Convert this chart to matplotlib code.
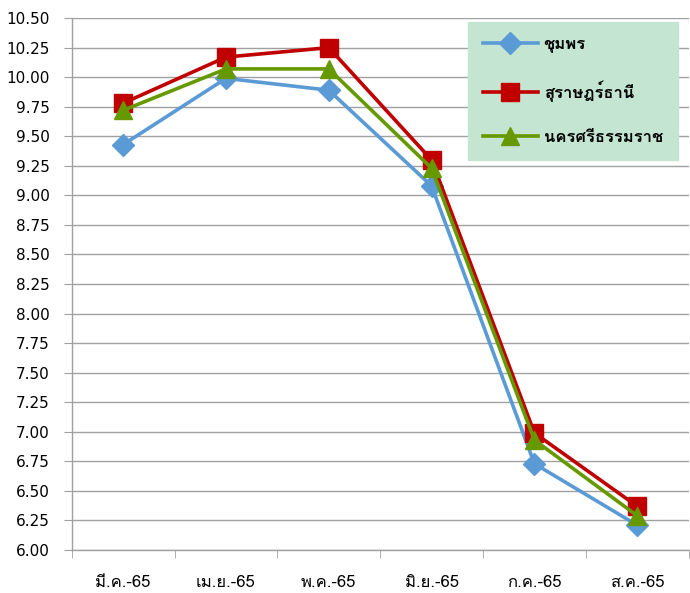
import matplotlib
matplotlib.use("Agg")
import matplotlib.pyplot as plt

plt.rcParams["font.family"] = ["DejaVu Sans", "Loma"]

months = ["มี.ค.-65", "เม.ย.-65", "พ.ค.-65", "มิ.ย.-65", "ก.ค.-65", "ส.ค.-65"]
chumphon = [9.43, 9.99, 9.89, 9.08, 6.73, 6.21]
surat = [9.78, 10.17, 10.25, 9.30, 6.99, 6.37]
nakhon = [9.72, 10.07, 10.07, 9.23, 6.93, 6.29]

series = [
    ("ชุมพร", chumphon, "#5B9BD5", "D", 11),
    ("สุราษฎร์ธานี", surat, "#C00000", "s", 12.5),
    ("นครศรีธรรมราช", nakhon, "#669900", "^", 13),
]

fig = plt.figure(figsize=(6.9, 5.93), dpi=100)
ax = fig.add_axes([0.104, 0.0725, 0.894, 0.897])

x = list(range(len(months)))
for label, vals, color, marker, ms in series:
    ax.plot(x, vals, color=color, linewidth=2.6, marker=marker,
            markersize=ms, label=label)

ax.set_xlim(-0.5, len(months) - 0.5)
ax.set_ylim(6.0, 10.5)
ax.set_yticks([6.0 + 0.25 * i for i in range(19)])
ax.yaxis.set_major_formatter(matplotlib.ticker.FormatStrFormatter("%.2f"))
ax.set_xticks(x)
ax.set_xticklabels(months, fontfamily=["Loma", "DejaVu Sans"])
ax.set_xticks([i - 0.5 for i in range(len(months) + 1)], minor=True)

ax.grid(axis="y", color="#A0A0A0", linewidth=1.0)
ax.set_axisbelow(True)
for side in ["top", "right"]:
    ax.spines[side].set_visible(False)
for side in ["left", "bottom"]:
    ax.spines[side].set_color("#A0A0A0")
    ax.spines[side].set_linewidth(1.0)

ax.tick_params(axis="y", which="major", length=6, color="#A0A0A0",
               labelsize=11, pad=10)
ax.tick_params(axis="x", which="major", length=0, labelsize=12, pad=18)
ax.tick_params(axis="x", which="minor", length=6, color="#A0A0A0")

leg = ax.legend(loc="upper right", bbox_to_anchor=(678 / 690, 1 - 22 / 593),
                bbox_transform=fig.transFigure, borderaxespad=0,
                frameon=True, fancybox=False, borderpad=0.9,
                labelspacing=1.65, handlelength=3.3, handletextpad=0.35,
                prop={"family": ["Loma", "DejaVu Sans"], "size": 12,
                      "weight": "bold"})
leg.get_frame().set_facecolor("#C5E5D3")
leg.get_frame().set_edgecolor("#C5E5D3")
leg.get_frame().set_alpha(1.0)

fig.savefig("out.png", dpi=100)
